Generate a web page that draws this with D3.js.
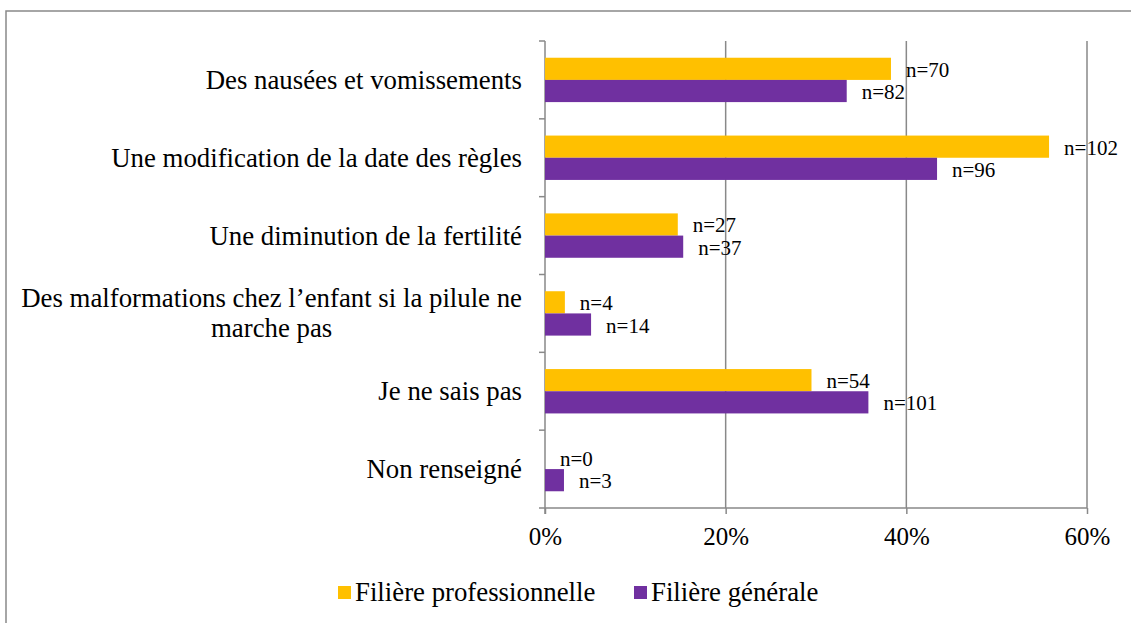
<!DOCTYPE html>
<html>
<head>
<meta charset="utf-8">
<script src="https://cdn.jsdelivr.net/npm/d3@7"></script>
<style>
  body { margin: 0; background: #fff; }
  svg text { font-family: "Liberation Serif", "Times New Roman", Times, serif; fill: #000; }
</style>
</head>
<body>
<script>
// categories, top to bottom
var categories = [
  "Des nausées et vomissements",
  "Une modification de la date des règles",
  "Une diminution de la fertilité",
  "Des malformations chez l’enfant si la pilule ne|marche pas",
  "Je ne sais pas",
  "Non renseigné"
];
var seriesNames = ["Filière professionnelle", "Filière générale"];
// percentages
var proValues = [38.3, 55.8, 14.7, 2.2, 29.5, 0];
var genValues = [33.4, 43.4, 15.3, 5.1, 35.8, 2.1];
// counts shown next to the bars
var proCounts = [70, 102, 27, 4, 54, 0];
var genCounts = [82, 96, 37, 14, 101, 3];
var xTicks = [0, 20, 40, 60];

var colors = ["#FFC000", "#7030A0"];
var serif = "'Liberation Serif', 'Times New Roman', Times, serif";
var w = 1131, h = 623;
var plotLeft = 545, plotRight = 1087, plotTop = 41, plotBottom = 508;

var svg = d3.select("body").append("svg")
  .attr("width", w)
  .attr("height", h);

// outer frame (runs off the right and bottom edges)
svg.append("rect")
  .attr("x", 6).attr("y", 11)
  .attr("width", w + 20).attr("height", h + 20)
  .style("fill", "#fff")
  .style("stroke", "#898989")
  .style("stroke-width", 1.5);

var x = d3.scaleLinear().domain([0, 60]).range([plotLeft, plotRight]);
var y = d3.scaleBand().domain(d3.range(categories.length)).range([plotTop, plotBottom]).padding(0);
var band = y.bandwidth();
var ySub = d3.scaleBand().domain([0, 1]).range([band * 0.215, band * 0.785]).padding(0);

// vertical gridlines
svg.selectAll(".grid")
  .data(xTicks.slice(1))
  .enter().append("line")
  .attr("class", "grid")
  .attr("x1", function(d){ return x(d); })
  .attr("x2", function(d){ return x(d); })
  .attr("y1", plotTop).attr("y2", plotBottom)
  .style("stroke", "#898989")
  .style("stroke-width", 1.5);

// bottom axis
var xAxis = d3.axisBottom(x)
  .tickValues(xTicks)
  .tickSize(6)
  .tickPadding(13)
  .tickFormat(function(d){ return d + "%"; });
var gx = svg.append("g")
  .attr("transform", "translate(0," + plotBottom + ")")
  .call(xAxis)
  .attr("font-family", null);
gx.select(".domain").attr("d", "M" + plotLeft + ",0H" + plotRight).style("stroke", "#898989").style("stroke-width", 1.5);
gx.selectAll(".tick line").style("stroke", "#898989").style("stroke-width", 1.5);
gx.selectAll(".tick text")
  .style("font-family", serif)
  .style("font-size", "25px")
  .attr("fill", "#000");

// left category axis with ticks on band edges
var edges = d3.range(categories.length + 1).map(function(i){ return plotTop + i * band; });
svg.append("line")
  .attr("x1", plotLeft).attr("x2", plotLeft)
  .attr("y1", plotTop).attr("y2", plotBottom + 6)
  .style("stroke", "#898989").style("stroke-width", 1.5);
svg.selectAll(".ytick")
  .data(edges)
  .enter().append("line")
  .attr("class", "ytick")
  .attr("x1", plotLeft - 6).attr("x2", plotLeft)
  .attr("y1", function(d){ return d; })
  .attr("y2", function(d){ return d; })
  .style("stroke", "#898989").style("stroke-width", 1.5);

// bars
var series = [
  { name: seriesNames[0], values: proValues, counts: proCounts },
  { name: seriesNames[1], values: genValues, counts: genCounts }
];
series.forEach(function(s, si){
  svg.selectAll(".bar" + si)
    .data(s.values)
    .enter().append("rect")
    .attr("class", "bar" + si)
    .attr("x", x(0))
    .attr("y", function(d, i){ return y(i) + ySub(si); })
    .attr("width", function(d){ return x(d) - x(0); })
    .attr("height", ySub.bandwidth())
    .style("fill", colors[si]);

  svg.selectAll(".lab" + si)
    .data(s.values)
    .enter().append("text")
    .attr("class", "lab" + si)
    .attr("x", function(d){ return x(d) + 15; })
    .attr("y", function(d, i){ return y(i) + ySub(si) + ySub.bandwidth() / 2 + 8; })
    .style("font-family", serif)
    .style("font-size", "21px")
    .text(function(d, i){ return "n=" + s.counts[i]; });
});

// category labels (second line centred under the first)
categories.forEach(function(c, i){
  var lines = c.split("|");
  var cy = y(i) + band / 2;
  var lh = 30;
  var first = null;
  lines.forEach(function(line, li){
    var t = svg.append("text")
      .attr("y", cy + 9 + (li - (lines.length - 1) / 2) * lh)
      .style("font-family", serif)
      .style("font-size", "26.8px")
      .text(line);
    if (li === 0) {
      t.attr("x", 522).attr("text-anchor", "end");
      first = t.node().getComputedTextLength();
    } else {
      t.attr("x", 522 - first / 2).attr("text-anchor", "middle");
    }
  });
});

// legend
var legendX = [338, 634];
series.forEach(function(s, si){
  svg.append("rect")
    .attr("x", legendX[si]).attr("y", 586)
    .attr("width", 13).attr("height", 13)
    .style("fill", colors[si]);
  svg.append("text")
    .attr("x", legendX[si] + 17).attr("y", 601)
    .style("font-family", serif)
    .style("font-size", "26.8px")
    .text(s.name);
});
</script>
</body>
</html>
